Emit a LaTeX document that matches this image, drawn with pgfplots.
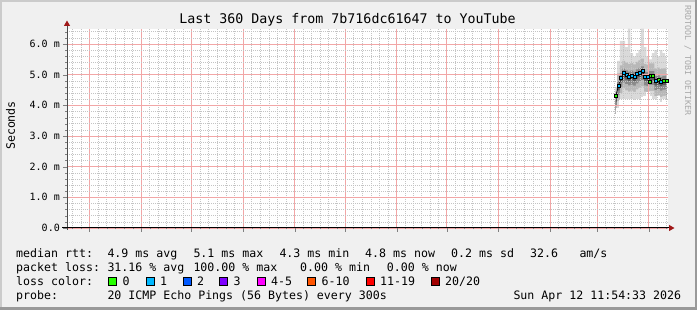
\documentclass[border=0pt]{standalone}
\usepackage{fontspec}
\setmainfont{DejaVu Sans Mono}
\usepackage{pgfplots}
\pgfplotsset{compat=1.18}
\usepackage{pgfplotstable}
\usetikzlibrary{arrows.meta}

\definecolor{backc}{HTML}{F0F0F0}
\definecolor{shadeA}{HTML}{CBCBCB}
\definecolor{shadeB}{HTML}{999999}
\definecolor{majgrid}{HTML}{F2A6A6}
\definecolor{mingrid}{HTML}{C4C4C4}
\definecolor{arrowred}{HTML}{A01818}
\definecolor{wmark}{HTML}{A8A8A8}
\definecolor{smokeL}{HTML}{DADADA}
\definecolor{smokeM}{HTML}{B8B8B8}
\definecolor{smokeD}{HTML}{8A8A8A}
\definecolor{smokeDD}{HTML}{585858}
\definecolor{lossA}{HTML}{26FF00}
\definecolor{lossB}{HTML}{00B8FF}
\definecolor{lossC}{HTML}{0059FF}
\definecolor{lossD}{HTML}{7E00FF}
\definecolor{lossE}{HTML}{FF00FF}
\definecolor{lossF}{HTML}{FF5500}
\definecolor{lossG}{HTML}{FF0000}
\definecolor{lossH}{HTML}{A10000}

\newcommand\ticksize{\fontsize{10}{12}\selectfont}
\newcommand\legsize{\fontsize{11.6}{14}\selectfont}
\newcommand\titlesize{\fontsize{13.3}{16}\selectfont}

% smoke: median and percentile bands (ms)
\pgfplotstableread{
x     med  min  mlo  dlo  ddlo ddhi dhi  mhi  max
328.7 4.30 3.70 3.85 4.00 4.12 4.35 4.45 4.55 4.60
330.3 4.64 3.90 4.14 4.34 4.49 4.67 4.79 5.04 5.45
331.9 4.90 4.20 4.40 4.60 4.75 4.93 5.05 5.30 6.10
333.5 5.05 4.15 4.55 4.75 4.90 5.08 5.20 5.45 6.10
335.1 4.99 4.20 4.49 4.69 4.84 5.02 5.14 5.39 5.90
336.7 4.95 4.20 4.45 4.65 4.80 4.98 5.10 5.35 6.50
338.3 4.98 4.20 4.48 4.68 4.83 5.01 5.13 5.38 5.70
339.9 4.94 4.15 4.44 4.64 4.79 4.97 5.09 5.34 5.60
341.5 5.02 4.20 4.52 4.72 4.87 5.05 5.17 5.42 5.70
343.1 5.07 4.20 4.57 4.77 4.92 5.10 5.22 5.47 5.80
344.7 5.12 4.25 4.62 4.82 4.97 5.15 5.27 5.52 6.50
346.3 4.95 4.30 4.45 4.65 4.80 4.98 5.10 5.35 5.90
347.9 4.93 4.40 4.43 4.63 4.78 4.96 5.08 5.33 5.60
349.5 4.97 4.30 4.47 4.67 4.82 5.00 5.12 5.37 5.50
351.1 4.97 4.20 4.47 4.67 4.82 5.00 5.12 5.37 5.70
352.7 4.80 4.15 4.30 4.50 4.65 4.83 4.95 5.20 5.80
354.3 4.83 4.30 4.33 4.53 4.68 4.86 4.98 5.23 5.60
355.9 4.78 4.10 4.28 4.48 4.63 4.81 4.93 5.18 5.80
357.5 4.81 4.20 4.31 4.51 4.66 4.84 4.96 5.21 5.70
359.1 4.82 4.20 4.32 4.52 4.67 4.85 4.97 5.22 5.60
}\smoke

% median points with 0 lost pings
\pgfplotstableread{
x y
328.7 4.30
349.0 4.77
349.5 4.97
351.1 4.97
354.3 4.83
357.5 4.81
359.1 4.82
}\lossZero

% median points with 1 lost ping
\pgfplotstableread{
x y
330.3 4.64
331.9 4.90
333.5 5.05
335.1 4.99
336.7 4.95
338.3 4.98
339.9 4.94
341.5 5.02
343.1 5.07
344.7 5.12
346.3 4.95
347.9 4.93
352.7 4.80
355.9 4.78
}\lossOne

\begin{document}
\begin{tikzpicture}
\useasboundingbox (0pt,0pt) rectangle (697pt,310pt);
\fill[shadeB] (0pt,0pt) rectangle (697pt,310pt);
\fill[shadeA] (0pt,3pt) rectangle (695pt,310pt);
\fill[backc] (2pt,3pt) rectangle (695pt,308pt);

\begin{axis}[
  at={(67pt,82pt)}, anchor=south west,
  scale only axis, width=601pt, height=199.3pt,
  xmin=0, xmax=360, ymin=0, ymax=6.5,
  axis background/.style={fill=white},
  axis line style={draw=none},
  axis on top,
  xtick={13.5,44.5,74.5,105.5,136.5,166.5,197.5,227.5,258.5,289.5,317.5,348.5},
  minor xtick={3.17,8.33,18.67,23.83,29,34.17,39.33,49.5,54.5,59.5,64.5,69.5,79.67,84.83,90,95.17,100.33,110.67,115.83,121,126.17,131.33,141.5,146.5,151.5,156.5,161.5,171.67,176.83,182,187.17,192.33,202.5,207.5,212.5,217.5,222.5,232.67,237.83,243,248.17,253.33,263.67,268.83,274,279.17,284.33,294.17,298.83,303.5,308.17,312.83,322.67,327.83,333,338.17,343.33,353.67,358.83},
  xticklabels={},
  ytick={0,1,2,3,4,5,6},
  yticklabels={0.0,1.0 m,2.0 m,3.0 m,4.0 m,5.0 m,6.0 m},
  minor ytick={0.2,0.4,0.6,0.8,1.2,1.4,1.6,1.8,2.2,2.4,2.6,2.8,3.2,3.4,3.6,3.8,4.2,4.4,4.6,4.8,5.2,5.4,5.6,5.8,6.2,6.4},
  grid=both,
  every major grid/.style={draw=majgrid, line width=0.8pt},
  every minor grid/.style={draw=mingrid, line width=0.6pt, dash pattern=on 1pt off 1pt},
  tick pos=left,
  tick align=outside,
  major tick length=4pt, minor tick length=1.5pt,
  yticklabel style={font=\ticksize, anchor=east, inner sep=0pt, xshift=-3pt},
]
% smoke, stacked from the top band down
\addplot[draw=none, fill=smokeL, const plot mark mid] table[x=x, y=max]{\smoke} \closedcycle;
\addplot[draw=none, fill=smokeM, const plot mark mid] table[x=x, y=mhi]{\smoke} \closedcycle;
\addplot[draw=none, fill=smokeD, const plot mark mid] table[x=x, y=dhi]{\smoke} \closedcycle;
\addplot[draw=none, fill=smokeDD, const plot mark mid] table[x=x, y=ddhi]{\smoke} \closedcycle;
\addplot[draw=none, fill=smokeD, const plot mark mid] table[x=x, y=ddlo]{\smoke} \closedcycle;
\addplot[draw=none, fill=smokeM, const plot mark mid] table[x=x, y=dlo]{\smoke} \closedcycle;
\addplot[draw=none, fill=smokeL, const plot mark mid] table[x=x, y=mlo]{\smoke} \closedcycle;
\addplot[draw=white, line width=1.2pt, fill=white, const plot mark mid] table[x=x, y=min]{\smoke} \closedcycle;
% median
\addplot[black, line width=0.6pt] table[x=x, y=med]{\smoke};
\addplot[only marks, mark=square*, mark size=1.5pt, mark options={draw=none, fill=lossA}] table[x=x, y=y]{\lossZero};
\addplot[only marks, mark=square*, mark size=1.5pt, mark options={draw=none, fill=lossB}] table[x=x, y=y]{\lossOne};
% month labels
\node[font=\ticksize, anchor=base] at (axis cs:26.2,0) [yshift=-13.5pt] {May 2025};
\node[font=\ticksize, anchor=base] at (axis cs:86.7,0) [yshift=-13.5pt] {July 2025};
\node[font=\ticksize, anchor=base] at (axis cs:147.9,0) [yshift=-13.5pt] {September 2025};
\node[font=\ticksize, anchor=base] at (axis cs:208.9,0) [yshift=-13.5pt] {November 2025};
\node[font=\ticksize, anchor=base] at (axis cs:269.3,0) [yshift=-13.5pt] {January 2026};
\node[font=\ticksize, anchor=base] at (axis cs:331.9,0) [yshift=-13.5pt] {March 2026};
\end{axis}

% axis lines with arrows
\draw[line width=1pt, black!70, -{Triangle[length=5.5pt,width=6pt,color=arrowred]}] (67pt,80pt) -- (67pt,289.5pt);
\draw[line width=1pt, black, -{Triangle[length=5.5pt,width=6pt,color=arrowred]}] (62pt,82pt) -- (674.5pt,82pt);

% title and labels
\node[font=\titlesize, anchor=base, inner sep=0pt] at (347.5pt,286.7pt) {Last 360 Days from 7b716dc61647 to YouTube};
\node[font=\legsize, anchor=base, rotate=90, inner sep=0pt] at (15pt,184.5pt) {Seconds};
\node[font=\fontsize{8.3}{10}\selectfont, text=wmark, anchor=base west, rotate=-90, inner sep=0pt] at (685pt,305pt) {RRDTOOL / TOBI OETIKER};

% legend
\begin{scope}[every node/.style={font=\legsize, anchor=base west, inner sep=0pt}]
\node at (16pt,52pt) {median rtt:};
\node at (107.3pt,52pt) {4.9 ms avg};
\node at (193.3pt,52pt) {5.1 ms max};
\node at (279.3pt,52pt) {4.3 ms min};
\node at (365pt,52pt) {4.8 ms now};
\node at (451pt,52pt) {0.2 ms sd};
\node at (530pt,52pt) {32.6};
\node at (579.3pt,52pt) {am/s};

\node at (16pt,38pt) {packet loss:};
\node at (107.3pt,38pt) {31.16 \% avg};
\node at (193.3pt,38pt) {100.00 \% max};
\node at (300pt,38pt) {0.00 \% min};
\node at (386.7pt,38pt) {0.00 \% now};

\node at (16pt,24pt) {loss color:};
\filldraw[fill=lossA, draw=black, line width=0.8pt] (108.5pt,24.5pt) rectangle (116.5pt,32.5pt);
\node at (122.5pt,24pt) {0};
\filldraw[fill=lossB, draw=black, line width=0.8pt] (146pt,24.5pt) rectangle (154pt,32.5pt);
\node at (160pt,24pt) {1};
\filldraw[fill=lossC, draw=black, line width=0.8pt] (183pt,24.5pt) rectangle (191pt,32.5pt);
\node at (197pt,24pt) {2};
\filldraw[fill=lossD, draw=black, line width=0.8pt] (219.5pt,24.5pt) rectangle (227.5pt,32.5pt);
\node at (233.5pt,24pt) {3};
\filldraw[fill=lossE, draw=black, line width=0.8pt] (257pt,24.5pt) rectangle (265pt,32.5pt);
\node at (271pt,24pt) {4-5};
\filldraw[fill=lossF, draw=black, line width=0.8pt] (307.5pt,24.5pt) rectangle (315.5pt,32.5pt);
\node at (321.5pt,24pt) {6-10};
\filldraw[fill=lossG, draw=black, line width=0.8pt] (366pt,24.5pt) rectangle (374pt,32.5pt);
\node at (380pt,24pt) {11-19};
\filldraw[fill=lossH, draw=black, line width=0.8pt] (431pt,24.5pt) rectangle (439pt,32.5pt);
\node at (445pt,24pt) {20/20};

\node at (16pt,10pt) {probe:};
\node at (107.3pt,10pt) {20 ICMP Echo Pings (56 Bytes) every 300s};
\node at (513.3pt,10pt) {Sun Apr 12 11:54:33 2026};
\end{scope}
\end{tikzpicture}
\end{document}
